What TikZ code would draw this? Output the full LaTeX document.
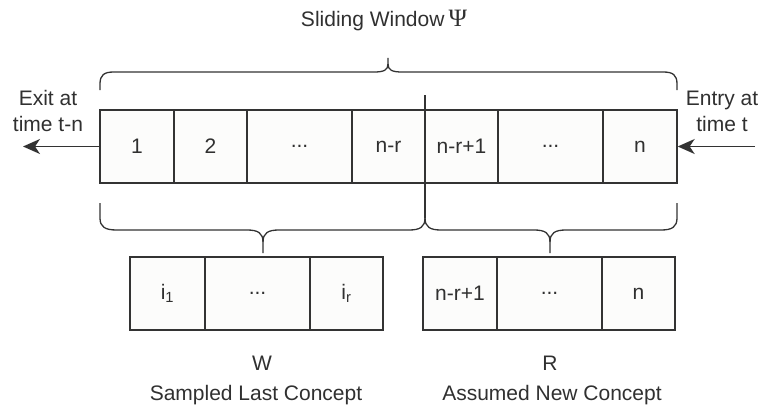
\documentclass[tikz,border=0pt]{standalone}
\usepackage{fontspec}
\setmainfont{Liberation Sans}
\newfontfamily\serifpsi{Liberation Serif}
\usetikzlibrary{arrows.meta}
\definecolor{ln}{HTML}{333333}
\definecolor{tx}{HTML}{303030}
\definecolor{bx}{HTML}{FCFCFB}
\tikzset{
  cell/.style={draw=ln, line width=1.4pt, fill=bx, minimum height=73pt, inner sep=0pt, text=tx, font=\fontsize{21}{25}\selectfont},
  lbl/.style={text=tx, font=\fontsize{21}{26}\selectfont, align=center, inner sep=0pt},
  brc/.style={draw=ln, line width=1.3pt},
  arr/.style={draw=ln, line width=1.4pt, -{Stealth[length=17pt,width=15pt,inset=5pt]}}
}
\begin{document}
\begin{tikzpicture}[x=1pt,y=-1pt]
\useasboundingbox (0,0) rectangle (763,412);
% top row
\node[cell, minimum width=74pt]  (c1) at (137,146.5) {1};
\node[cell, minimum width=73pt]  (c2) at (210.5,146.5) {2};
\node[cell, minimum width=105pt] (c3) at (299.5,146.5) {...};
\node[cell, minimum width=73pt]  (c4) at (388.5,146.5) {n-r};
\node[cell, minimum width=73pt]  (c5) at (461.5,146.5) {n-r+1};
\node[cell, minimum width=105pt] (c6) at (550.5,146.5) {...};
\node[cell, minimum width=74pt]  (c7) at (640,146.5) {n};
% W box
\node[cell, minimum width=75pt]  (w1) at (167.5,293.5) {i\textsubscript{1}};
\node[cell, minimum width=105pt] (w2) at (257.5,293.5) {...};
\node[cell, minimum width=73pt]  (w3) at (346.5,293.5) {i\textsubscript{r}};
% R box
\node[cell, minimum width=74pt]  (r1) at (460,293.5) {n-r+1};
\node[cell, minimum width=105pt] (r2) at (549.5,293.5) {...};
\node[cell, minimum width=73pt]  (r3) at (638.5,293.5) {n};
% labels
\node[lbl] (title) at (384,20) {Sliding Window\hspace{4pt}{\serifpsi\fontsize{25}{26}\selectfont Ψ}};
\node[lbl] (exit) at (48,111) {Exit at\\time t-n};
\node[lbl] (entry) at (722,111) {Entry at\\time t};
\node[lbl] (wl) at (262,363) {W};
\node[lbl] (wd) at (256,395) {Sampled Last Concept};
\node[lbl] (rl) at (550,363) {R};
\node[lbl] (rd) at (552,395) {Assumed New Concept};
% arrows
\coordinate (exitend) at (23,146.5);
\coordinate (entrystart) at (755,146.5);
\draw[arr] (c1.west) -- (exitend);
\draw[arr] (entrystart) -- (c7.east);
% top brace
\draw[brc] (100,90) -- (100,84) .. controls (100,75) and (104,72) .. (114,72) -- (374,72)
  .. controls (384,72) and (388,70) .. (388,64) -- (388,58);
\draw[brc] (388,64) .. controls (388,70) and (392,72) .. (402,72) -- (663,72)
  .. controls (673,72) and (677,75) .. (677,84) -- (677,90);
% divider
\draw[brc] (425,95) -- (425,218);
% bottom left brace
\draw[brc] (100,203) -- (100,218) .. controls (100,227) and (105,230) .. (117,230) -- (247,230)
  .. controls (258,230) and (263,233) .. (263,242) -- (263,253);
\draw[brc] (263,242) .. controls (263,233) and (268,230) .. (279,230) -- (409,230)
  .. controls (420,230) and (425,227) .. (425,218);
% bottom right brace
\draw[brc] (425,218) .. controls (425,227) and (430,230) .. (441,230) -- (534,230)
  .. controls (545,230) and (550,233) .. (550,242) -- (550,253);
\draw[brc] (550,242) .. controls (550,233) and (555,230) .. (566,230) -- (661,230)
  .. controls (672,230) and (677,227) .. (677,218) -- (677,203);
\end{tikzpicture}
\end{document}
